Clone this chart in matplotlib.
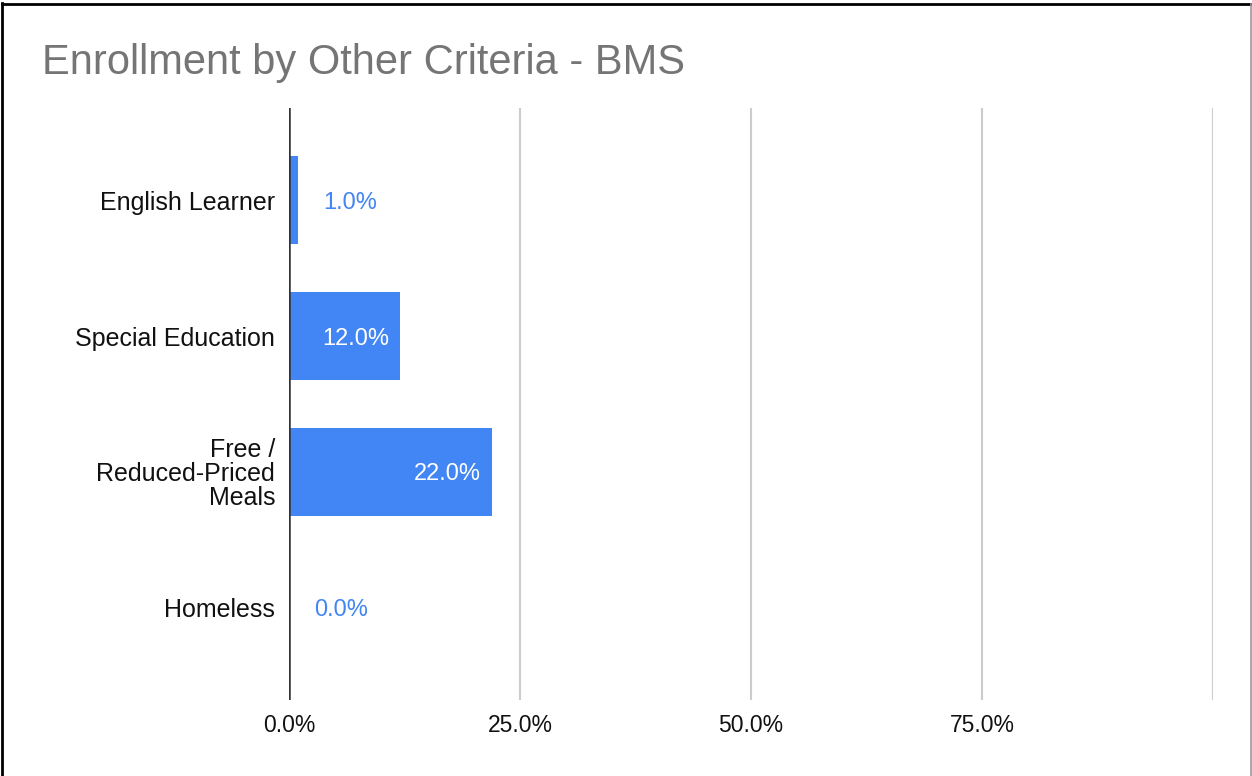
import matplotlib.pyplot as plt
from matplotlib.lines import Line2D
from matplotlib.ticker import FuncFormatter

plt.rcParams['font.family'] = ['Liberation Sans', 'DejaVu Sans']

categories = ['English Learner', 'Special Education', 'Free /\nReduced-Priced\nMeals', 'Homeless']
percents = [1.0, 12.0, 22.0, 0.0]
xticks = [0, 25, 50, 75, 100]

BLUE = '#4285f4'
W, H, DPI = 1252, 776, 100

fig = plt.figure(figsize=(W / DPI, H / DPI), dpi=DPI)
ax = fig.add_axes([289 / W, 1 - 700 / H, (1213 - 289) / W, (700 - 108) / H])

ypos = list(range(len(categories)))
ax.barh(ypos, percents, height=0.65, color=BLUE, zorder=3)

ax.set_xlim(0, 100)
ax.set_ylim(len(categories) - 1 + 0.68, -0.68)
ax.set_xticks(xticks)
ax.xaxis.set_major_formatter(FuncFormatter(lambda v, p: '' if v >= 100 else f'{v:.1f}%'))
ax.set_yticks(ypos)
ax.set_yticklabels(categories, fontsize=18, ha='right', linespacing=1.0)
ax.tick_params(axis='x', length=0, labelsize=16.5, colors='#111111', pad=10)
ax.tick_params(axis='y', length=0, labelsize=18, colors='#111111', pad=10)
ax.grid(axis='x', color='#cccccc', linewidth=1.5, zorder=0)
for s in ax.spines.values():
    s.set_visible(False)
ax.axvline(0, color='#333333', linewidth=1.8, zorder=4)

# value labels: inside the bar when it is wide enough, otherwise after it
for y, v in zip(ypos, percents):
    label = f'{v:.1f}%'
    if v >= 10:
        ax.annotate(label, (v, y), xytext=(-8, 0), textcoords='offset points',
                    ha='right', va='center_baseline', color='white', fontsize=17, zorder=5)
    else:
        ax.annotate(label, (v, y), xytext=(18, 0), textcoords='offset points',
                    ha='left', va='center_baseline', color=BLUE, fontsize=17, zorder=5)

fig.text(42 / W, 1 - 63 / H, 'Enrollment by Other Criteria - BMS',
         fontsize=30, color='#757575', va='center', ha='left')

# frame around the chart
fig.add_artist(Line2D([2 / W, 2 / W], [0, 1 - 3 / H], color='black', linewidth=2))
fig.add_artist(Line2D([2 / W, 1], [1 - 4 / H, 1 - 4 / H], color='black', linewidth=2))
fig.add_artist(Line2D([1 - 1.5 / W, 1 - 1.5 / W], [0, 1 - 4 / H], color='#999999', linewidth=1.2))

fig.savefig('out.png', dpi=DPI)
